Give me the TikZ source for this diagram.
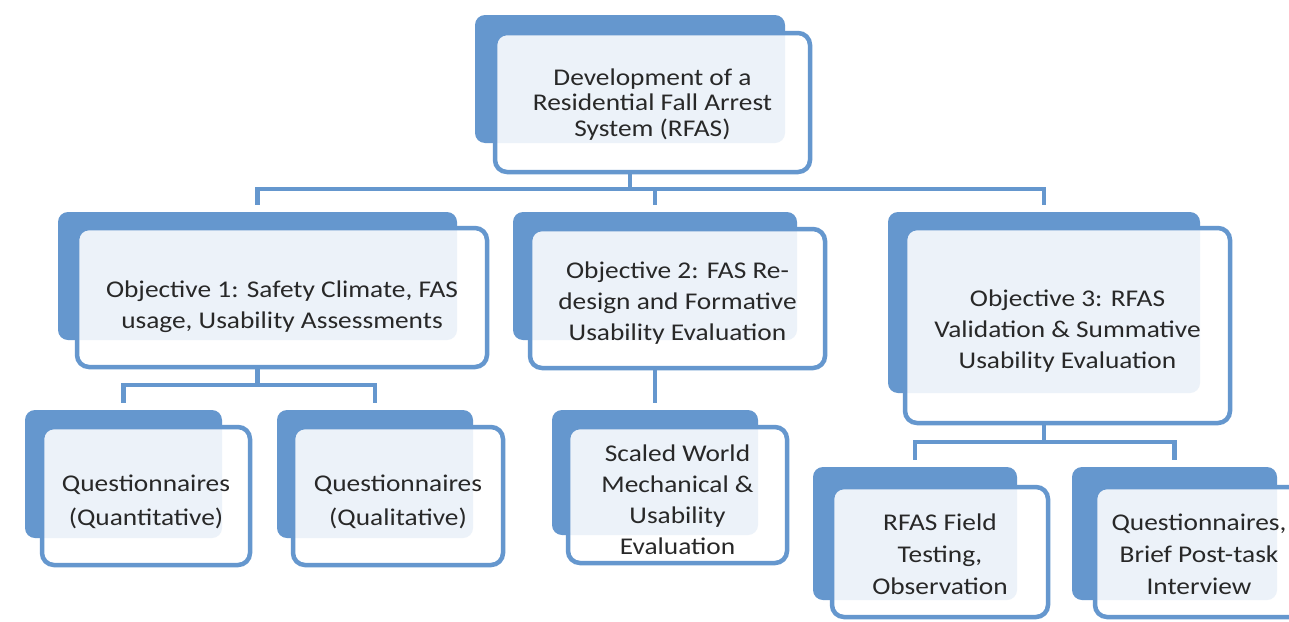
\documentclass[tikz,border=0pt]{standalone}
\usepackage{fontspec}
\setmainfont{Carlito}[FakeStretch=1.14]
\usetikzlibrary{fit}
\definecolor{bl}{RGB}{101,151,206}
\definecolor{txt}{RGB}{40,40,40}
\begin{document}
\begin{tikzpicture}[x=1pt,y=-1pt,
  backbox/.style={rectangle, rounded corners=10pt, fill=bl, draw=none, inner sep=0pt, outer sep=0pt},
  frontbox/.style={rectangle, rounded corners=12pt, draw=bl, line width=4.5pt, fill=white, fill opacity=0.88, inner sep=0pt, outer sep=0pt},
  lbl/.style={text=txt, align=center, inner sep=0pt, font=\fontsize{24}{31}\selectfont},
  conn/.style={draw=bl, line width=4.5pt},
  bus/.style={conn, line cap=rect},
  drop/.style={conn, shorten >=7pt}]
\useasboundingbox (0,0) rectangle (1289,621);
\clip (0,0) rectangle (1289,621);
\fill[white] (0,0) rectangle (1289,621);

% top
\node[backbox, fit={(475,15)(785,143)}] (topB) {};
\node[frontbox, fit={(495,33)(810,172)}] (topF) {};
\node[lbl, font=\fontsize{24}{25.5}\selectfont, yshift=-2pt] (topT) at (topF.center) {Development of a\\Residential Fall Arrest\\System (RFAS)};

% objectives
\node[backbox, fit={(58,212)(457,340)}] (o1B) {};
\node[frontbox, fit={(77,228)(487,367)}] (o1F) {};
\node[lbl, yshift=-9pt] (o1T) at (o1F.center) {Objective 1: Safety Climate, FAS\\usage, Usability Assessments};
\node[backbox, fit={(513,212)(797,340)}] (o2B) {};
\node[frontbox, fit={(530,229)(825,368)}] (o2F) {};
\node[lbl, yshift=-5pt] (o2T) at (o2F.center) {Objective 2: FAS Re-\\design and Formative\\Usability Evaluation};
\node[backbox, fit={(888,212)(1200,393)}] (o3B) {};
\node[frontbox, fit={(905,228)(1230,423)}] (o3F) {};
\node[lbl, yshift=-6pt] (o3T) at (o3F.center) {Objective 3: RFAS\\Validation \& Summative\\Usability Evaluation};

% leaves
\node[backbox, fit={(25,410)(222,538)}] (q1B) {};
\node[frontbox, fit={(42,427)(250,565)}] (q1F) {};
\node[lbl, font=\fontsize{24}{34}\selectfont, yshift=-6pt] (q1T) at (q1F.center) {Questionnaires\\(Quantitative)};
\node[backbox, fit={(277,410)(473,538)}] (q2B) {};
\node[frontbox, fit={(293,427)(503,565)}] (q2F) {};
\node[lbl, font=\fontsize{24}{34}\selectfont, yshift=-6pt] (q2T) at (q2F.center) {Questionnaires\\(Qualitative)};
\node[backbox, fit={(552,410)(758,535)}] (swB) {};
\node[frontbox, fit={(568,427)(787,563)}] (swF) {};
\node[lbl, yshift=-5pt] (swT) at (swF.center) {Scaled World\\Mechanical \&\\Usability\\Evaluation};
\node[backbox, fit={(813,467)(1017,600)}] (rfB) {};
\node[frontbox, fit={(832,487)(1048,617)}] (rfF) {};
\node[lbl, font=\fontsize{24}{32}\selectfont, yshift=-2pt] (rfT) at (rfF.center) {RFAS Field\\Testing,\\Observation};
\node[backbox, fit={(1072,467)(1277,600)}] (q3B) {};
\node[frontbox, fit={(1095,487)(1311,617)}] (q3F) {};
\node[lbl, font=\fontsize{24}{32}\selectfont, yshift=-2pt, xshift=-4pt] (q3T) at (q3F.center) {Questionnaires,\\Brief Post-task\\Interview};

% buses
\coordinate (bus1) at (0,189);
\coordinate (bus2) at (0,385);
\coordinate (bus3) at (0,442);

\draw[conn] (topF.south -| topB.south) -- (topB.south |- bus1);
\draw[bus] (o1B.north |- bus1) -- (o3B.north |- bus1);
\draw[drop] (o1B.north |- bus1) -- (o1B.north);
\draw[drop] (o2B.north |- bus1) -- (o2B.north);
\draw[drop] (o3B.north |- bus1) -- (o3B.north);

\draw[conn] (o1F.south -| o1B.south) -- (o1B.south |- bus2);
\draw[bus] (q1B.north |- bus2) -- (q2B.north |- bus2);
\draw[drop] (q1B.north |- bus2) -- (q1B.north);
\draw[drop] (q2B.north |- bus2) -- (q2B.north);

\draw[drop] (o2F.south -| o2B.south) -- (o2B.south |- swB.north);

\draw[conn] (o3F.south -| o3B.south) -- (o3B.south |- bus3);
\draw[bus] (rfB.north |- bus3) -- (q3B.north |- bus3);
\draw[drop] (rfB.north |- bus3) -- (rfB.north);
\draw[drop] (q3B.north |- bus3) -- (q3B.north);
\end{tikzpicture}
\end{document}
